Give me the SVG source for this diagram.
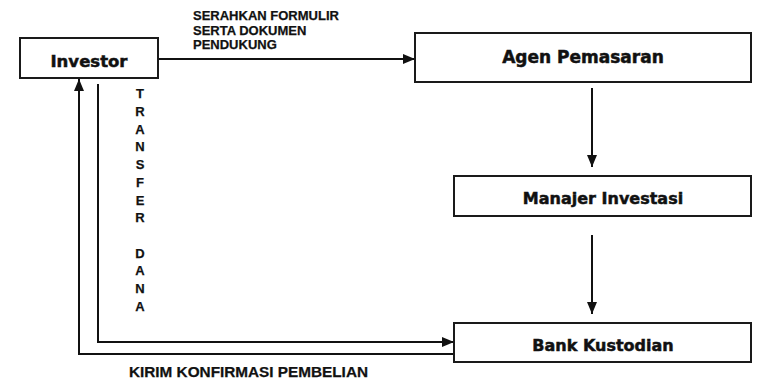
<svg xmlns="http://www.w3.org/2000/svg" width="758" height="382" viewBox="0 0 758 382">
<style>
.box{fill:#fff;stroke:#1a1a1a;stroke-width:2}
.lbl{font-family:"DejaVu Sans",Verdana,sans-serif;font-weight:bold;font-size:16px;fill:#111;text-anchor:middle;stroke:#111;stroke-width:0.5}
.edge{fill:none;stroke:#111;stroke-width:2}
.small{font-family:"Liberation Sans",Arial,sans-serif;font-weight:bold;font-size:13px;fill:#111;stroke:#111;stroke-width:0.25}
.vert{font-family:"Liberation Sans",Arial,sans-serif;font-weight:bold;font-size:13px;fill:#111;text-anchor:middle;stroke:#111;stroke-width:0.25}
</style>
<defs>
<marker id="ah" markerUnits="userSpaceOnUse" markerWidth="12" markerHeight="12" viewBox="0 0 12 12" refX="12" refY="6" orient="auto">
<path d="M0,1 L12,6 L0,11 Z" fill="#111"/>
</marker>
</defs>
<rect width="758" height="382" fill="#fff"/>
<g id="connectors">
<line class="edge" x1="158" y1="59" x2="415" y2="59" marker-end="url(#ah)"/>
<line class="edge" x1="592" y1="88" x2="592" y2="167" marker-end="url(#ah)"/>
<line class="edge" x1="592" y1="235" x2="592" y2="314" marker-end="url(#ah)"/>
<polyline class="edge" points="98,84 98,342 454,342" marker-end="url(#ah)"/>
<polyline class="edge" points="454,354 79,354 79,79" marker-end="url(#ah)"/>
</g>
<g id="labels">
<text class="small" x="193" y="20">SERAHKAN FORMULIR</text>
<text class="small" x="193" y="35">SERTA DOKUMEN</text>
<text class="small" x="193" y="49">PENDUKUNG</text>
<text class="small" x="129" y="377" style="font-size:14px" textLength="239" lengthAdjust="spacingAndGlyphs">KIRIM KONFIRMASI PEMBELIAN</text>
<g class="vert">
<text x="140" y="98">T</text>
<text x="140" y="116">R</text>
<text x="140" y="133.5">A</text>
<text x="140" y="151">N</text>
<text x="140" y="169">S</text>
<text x="140" y="187">F</text>
<text x="140" y="204.5">E</text>
<text x="140" y="222">R</text>
<text x="140" y="257.5">D</text>
<text x="140" y="275">A</text>
<text x="140" y="293">N</text>
<text x="140" y="311">A</text>
</g>
</g>
<g id="investor">
<rect class="box" x="20" y="38" width="138" height="40"/>
<text class="lbl" x="89" y="67" style="font-size:16.5px">Investor</text>
</g>
<g id="agen">
<rect class="box" x="415" y="33" width="336" height="49"/>
<text class="lbl" x="583" y="63" style="font-size:17px">Agen Pemasaran</text>
</g>
<g id="manajer">
<rect class="box" x="454" y="176" width="297" height="40"/>
<text class="lbl" x="603" y="204">Manajer Investasi</text>
</g>
<g id="bank">
<rect class="box" x="454" y="323" width="297" height="39"/>
<text class="lbl" x="603" y="351">Bank Kustodian</text>
</g>
</svg>
